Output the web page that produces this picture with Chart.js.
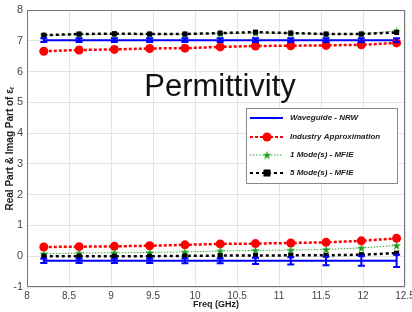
<!DOCTYPE html>
<html>
<head>
<meta charset="utf-8">
<script src="https://cdn.jsdelivr.net/npm/chart.js@4.4.1/dist/chart.umd.min.js"></script>
<style>
html,body{margin:0;padding:0;background:#fff}
#wrap{width:412px;height:312px}
</style>
</head>
<body>
<div id="wrap"><canvas id="c" width="412" height="312"></canvas></div>
<script>
// frequencies (GHz)
var freqs = [8.2, 8.62, 9.04, 9.46, 9.88, 10.3, 10.72, 11.14, 11.56, 11.98, 12.4];

// Waveguide - NRW (real / imag) and its error bars
var nrwReal = [7.02, 7.02, 7.02, 7.02, 7.02, 7.02, 7.02, 7.02, 7.02, 7.02, 7.02];
var nrwImag = [-0.15, -0.15, -0.15, -0.15, -0.15, -0.15, -0.15, -0.15, -0.15, -0.15, -0.15];
var nrwErrReal = [0.06, 0.06, 0.06, 0.06, 0.06, 0.06, 0.06, 0.06, 0.06, 0.06, 0.06];
var nrwErrImag = [0.07, 0.07, 0.07, 0.07, 0.08, 0.08, 0.1, 0.12, 0.14, 0.16, 0.2];

// Industry Approximation
var indReal = [6.66, 6.7, 6.72, 6.75, 6.76, 6.8, 6.83, 6.84, 6.85, 6.87, 6.93];
var indImag = [0.3, 0.31, 0.32, 0.34, 0.37, 0.4, 0.41, 0.43, 0.45, 0.5, 0.58];

// 1 Mode(s) - MFIE
var m1Real = [7.18, 7.2, 7.21, 7.21, 7.21, 7.23, 7.25, 7.24, 7.21, 7.22, 7.32];
var m1Imag = [0.08, 0.1, 0.11, 0.12, 0.14, 0.17, 0.19, 0.2, 0.22, 0.27, 0.35];

// 5 Mode(s) - MFIE
var m5Real = [7.18, 7.22, 7.23, 7.22, 7.22, 7.25, 7.28, 7.25, 7.22, 7.22, 7.27];
var m5Imag = [0.0, 0.0, 0.0, 0.0, 0.01, 0.02, 0.02, 0.03, 0.03, 0.05, 0.1];

var legendNames = ['Waveguide - NRW', 'Industry Approximation', '1 Mode(s) - MFIE', '5 Mode(s) - MFIE'];

function pts(ys){
    return ys.map(function(y, i){ return {x: freqs[i], y: y}; });
}

// 绿色五角星
function makeStar(size, color){
    var c = document.createElement('canvas');
    c.width = c.height = size;
    var g = c.getContext('2d');
    g.fillStyle = color;
    g.beginPath();
    for (var i = 0; i < 10; i++) {
        var r = i % 2 ? size * 0.2 : size * 0.5;
        var a = -Math.PI / 2 + i * Math.PI / 5;
        g.lineTo(size / 2 + r * Math.cos(a), size / 2 + 0.5 + r * Math.sin(a));
    }
    g.closePath();
    g.fill();
    return c;
}
var star = makeStar(9, '#1a9a1a');

var styles = [
    {color: '#0000ff', width: 2, dash: [], point: false, radius: 0, order: 4},
    {color: '#ff0000', width: 2.5, dash: [3, 2], point: 'circle', radius: 4.5, order: 3},
    {color: '#33aa33', width: 1, dash: [1.5, 1.5], point: star, radius: 4, order: 2},
    {color: '#000000', width: 2.5, dash: [3, 3], point: 'rect', radius: 3.6, order: 1}
];
var series = [[nrwReal, nrwImag], [indReal, indImag], [m1Real, m1Imag], [m5Real, m5Imag]];

var datasets = [];
series.forEach(function(s, k){
    var st = styles[k];
    s.forEach(function(ys, part){
        datasets.push({
            label: legendNames[k] + (part ? ' imag' : ' real'),
            data: pts(ys),
            borderColor: st.color,
            backgroundColor: st.color === '#33aa33' ? '#1a9a1a' : st.color,
            borderWidth: st.width,
            borderDash: st.dash,
            pointStyle: st.point,
            pointRadius: st.radius,
            pointBorderWidth: 0,
            tension: 0,
            order: st.order
        });
    });
});

// 误差棒
var errorBars = {
    id: 'errorBars',
    afterDatasetsDraw: function(chart){
        var ctx = chart.ctx, xs = chart.scales.x, ys = chart.scales.y;
        [[nrwReal, nrwErrReal], [nrwImag, nrwErrImag]].forEach(function(p){
            ctx.save();
            ctx.strokeStyle = '#0000ff';
            ctx.lineWidth = 2;
            p[0].forEach(function(v, i){
                var x = xs.getPixelForValue(freqs[i]);
                var y1 = ys.getPixelForValue(v - p[1][i]);
                var y2 = ys.getPixelForValue(v + p[1][i]);
                ctx.beginPath();
                ctx.moveTo(x, y1); ctx.lineTo(x, y2);
                ctx.moveTo(x - 3.5, y1); ctx.lineTo(x + 3.5, y1);
                ctx.moveTo(x - 3.5, y2); ctx.lineTo(x + 3.5, y2);
                ctx.stroke();
            });
            ctx.restore();
        });
    }
};

function drawMarker(ctx, k, x, y){
    var st = styles[k];
    ctx.fillStyle = st.color;
    if (st.point === 'circle') {
        ctx.beginPath(); ctx.arc(x, y, st.radius, 0, Math.PI * 2); ctx.fill();
    } else if (st.point === 'rect') {
        ctx.fillRect(x - 3.5, y - 3.5, 7, 7);
    } else if (st.point) {
        ctx.drawImage(st.point, x - 4.5, y - 4.5);
    }
}

// 边框, 图例, 标题文字
var decor = {
    id: 'decor',
    beforeDatasetsDraw: function(chart){
        var a = chart.chartArea, ctx = chart.ctx;
        ctx.save();
        ctx.strokeStyle = '#777';
        ctx.lineWidth = 1;
        ctx.strokeRect(a.left + 0.5, a.top + 0.5, a.right - a.left - 1, a.bottom - a.top - 1);
        ctx.restore();
    },
    afterDraw: function(chart){
        var ctx = chart.ctx;
        ctx.save();
        // big label
        ctx.fillStyle = '#111';
        ctx.font = '31px "Liberation Sans", Arial, sans-serif';
        ctx.textAlign = 'center';
        ctx.textBaseline = 'alphabetic';
        ctx.fillText('Permittivity', 220, 96);

        // legend box
        var bx = 246, by = 108, bw = 151, bh = 75;
        ctx.fillStyle = '#fff';
        ctx.fillRect(bx, by, bw, bh);
        ctx.strokeStyle = '#888';
        ctx.lineWidth = 1;
        ctx.strokeRect(bx + 0.5, by + 0.5, bw, bh);
        var rows = [118, 137, 155, 173];
        ctx.font = 'italic bold 8px "Liberation Sans", Arial, sans-serif';
        ctx.textAlign = 'left';
        ctx.textBaseline = 'middle';
        rows.forEach(function(ry, k){
            var st = styles[k];
            ctx.strokeStyle = st.color;
            ctx.lineWidth = Math.min(st.width, 2);
            ctx.setLineDash(st.dash);
            ctx.beginPath();
            ctx.moveTo(250, ry); ctx.lineTo(283, ry);
            ctx.stroke();
            ctx.setLineDash([]);
            drawMarker(ctx, k, 267, ry);
            ctx.fillStyle = '#222';
            ctx.fillText(legendNames[k], 290, ry);
        });
        ctx.restore();
    }
};

function plainTick(v){ return String(Math.round(v * 10) / 10); }

var ctx = document.getElementById('c').getContext('2d');
var chart = new Chart(ctx, {
    type: 'line',
    data: {datasets: datasets},
    options: {
        responsive: false,
        animation: false,
        devicePixelRatio: 1,
        layout: {padding: {top: 10, right: 7, left: 0, bottom: 0}},
        plugins: {legend: {display: false}, tooltip: {enabled: false}},
        scales: {
            x: {
                type: 'linear',
                min: 8, max: 12.5,
                afterFit: function(s){ s.height = 25; s.paddingLeft = 0; s.paddingRight = 0; },
                ticks: {stepSize: 0.5, padding: 3, color: '#444', callback: plainTick,
                        font: {size: 10, family: '"Liberation Sans", Arial'}},
                grid: {color: '#e4e4e4', drawTicks: false},
                border: {display: false},
                title: {display: true, text: 'Freq (GHz)', color: '#222', padding: {top: 0, bottom: 2},
                        font: {size: 9, weight: 'bold', family: '"Liberation Sans", Arial'}}
            },
            y: {
                min: -1, max: 8,
                afterFit: function(s){ s.width = 27; s.paddingTop = 0; s.paddingBottom = 0; },
                ticks: {stepSize: 1, padding: 4, color: '#444', callback: plainTick,
                        font: {size: 11, family: '"Liberation Sans", Arial'}},
                grid: {color: '#e4e4e4', drawTicks: false},
                border: {display: false},
                title: {display: true, text: 'Real Part & Imag Part of \u03b5\u1d63', color: '#222', padding: {top: 4, bottom: 0},
                        font: {size: 10, weight: 'bold', family: '"Liberation Sans", Arial'}}
            }
        }
    },
    plugins: [errorBars, decor]
});
</script>
</body>
</html>
